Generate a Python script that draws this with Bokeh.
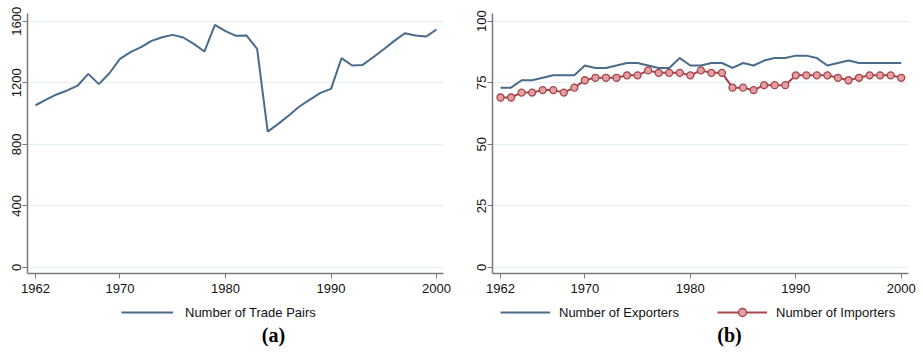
from bokeh.plotting import figure
from bokeh.models import Legend, LegendItem, Label, FixedTicker, Range1d
from bokeh.layouts import row, column
from bokeh.embed import file_html
from bokeh.resources import INLINE

years = list(range(1962, 2001))
trade_pairs = [1054, 1091, 1124, 1150, 1182, 1258, 1191, 1262, 1355, 1399,
               1431, 1472, 1496, 1511, 1494, 1453, 1403, 1576, 1535, 1505,
               1507, 1420, 883, 933, 987, 1046, 1091, 1134, 1160, 1360,
               1312, 1316, 1366, 1418, 1472, 1522, 1507, 1500, 1546]
exporters = [73, 73, 76, 76, 77, 78, 78, 78, 82, 81,
             81, 82, 83, 83, 82, 81, 81, 85, 82, 82,
             83, 83, 81, 83, 82, 84, 85, 85, 86, 86,
             85, 82, 83, 84, 83, 83, 83, 83, 83]
importers = [69, 69, 71, 71, 72, 72, 71, 73, 76, 77,
             77, 77, 78, 78, 80, 79, 79, 79, 78, 80,
             79, 79, 73, 73, 72, 74, 74, 74, 78, 78,
             78, 78, 77, 76, 77, 78, 78, 78, 77]
x_ticks = [1962, 1970, 1980, 1990, 2000]
left_ticks = [0, 400, 800, 1200, 1600]
right_ticks = [0, 25, 50, 75, 100]

BLUE = "#4a6b8c"
RED = "#a8434a"
PINK = "#e2a0a4"
FONT = "Liberation Sans"


def style(p, yticks):
    p.xaxis.ticker = FixedTicker(ticks=x_ticks)
    p.yaxis.ticker = FixedTicker(ticks=yticks)
    p.yaxis.major_label_orientation = "vertical"
    for ax in (p.xaxis[0], p.yaxis[0]):
        ax.major_label_text_font = FONT
        ax.major_label_text_font_size = "13px"
        ax.major_label_text_color = "#111111"
        ax.axis_line_color = "#7a7a7a"
        ax.axis_line_width = 1.5
        ax.major_tick_line_color = "#7a7a7a"
        ax.major_tick_in = 0
        ax.major_tick_out = 5
        ax.minor_tick_line_color = None
    p.xaxis.major_label_standoff = 5
    p.yaxis.major_label_standoff = 1
    p.xgrid.grid_line_color = None
    p.ygrid.grid_line_color = "#e6f0f2"
    p.ygrid.grid_line_width = 1
    p.outline_line_color = None
    p.background_fill_color = "white"
    p.border_fill_color = "white"


def key_figure(w):
    k = figure(width=w, height=53, output_backend="svg", toolbar_location=None,
               x_range=Range1d(0, 1), y_range=Range1d(0, 1),
               x_axis_type=None, y_axis_type=None,
               min_border=0)
    k.xgrid.grid_line_color = None
    k.ygrid.grid_line_color = None
    k.outline_line_color = None
    return k


def make_legend(items, loc, gw, standoff):
    lg = Legend(items=items, orientation="horizontal", location=loc)
    lg.border_line_color = None
    lg.background_fill_alpha = 0
    lg.label_text_font = FONT
    lg.label_text_font_size = "13px"
    lg.label_text_color = "#111111"
    lg.glyph_width = gw
    lg.glyph_height = 20
    lg.label_height = 20
    lg.label_standoff = standoff
    lg.padding = 0
    lg.margin = 0
    return lg


def make_label(t, x, y):
    return Label(x=x, y=y, x_units="screen", y_units="screen", text=t,
                 text_align="center", text_baseline="middle",
                 text_font="Liberation Serif", text_font_size="20px",
                 text_font_style="bold", text_color="#000000")


# Panel (a)
pa = figure(width=460, height=300, output_backend="svg",
            toolbar_location=None,
            x_range=Range1d(1961.24, 2000.66), y_range=Range1d(-39, 1650),
            min_border_left=27, min_border_right=17, min_border_top=13,
            min_border_bottom=27)
style(pa, left_ticks)
pa.line(years, trade_pairs, line_color=BLUE, line_width=2)

ka = key_figure(460)
ka_line = ka.line(years, trade_pairs, line_color=BLUE, line_width=2)
ka.add_layout(make_legend([LegendItem(label="Number of Trade Pairs", renderers=[ka_line])],
                          (94, 31), 52, 12))
ka.add_layout(make_label("(a)", 246, 19))

# Panel (b)
pb = figure(width=463, height=300, output_backend="svg",
            toolbar_location=None,
            x_range=Range1d(1961.24, 2000.69), y_range=Range1d(-2.44, 103.1),
            min_border_left=32, min_border_right=15, min_border_top=13,
            min_border_bottom=27)
style(pb, right_ticks)
pb.line(years, exporters, line_color=BLUE, line_width=2)
pb.line(years, importers, line_color=RED, line_width=2)
pb.scatter(years, importers, marker="circle", size=7,
           line_color=RED, line_width=1.3, fill_color=PINK)

kb = key_figure(463)
kb_e = kb.line(years, exporters, line_color=BLUE, line_width=2)
kb_i = kb.line(years, importers, line_color=RED, line_width=2)
kb_m = kb.scatter(years, importers, marker="circle", size=6,
                  line_color=RED, line_width=1.3, fill_color=PINK)
kb.add_layout(make_legend([LegendItem(label="Number of Exporters", renderers=[kb_e])],
                          (8, 31), 50, 9))
kb.add_layout(make_legend([LegendItem(label="Number of Importers", renderers=[kb_i, kb_m])],
                          (225, 31), 50, 9))
kb.add_layout(make_label("(b)", 237, 19))

layout = row(column(pa, ka, spacing=0), column(pb, kb, spacing=0), spacing=0)
open("out.html", "w").write(file_html(layout, INLINE))
